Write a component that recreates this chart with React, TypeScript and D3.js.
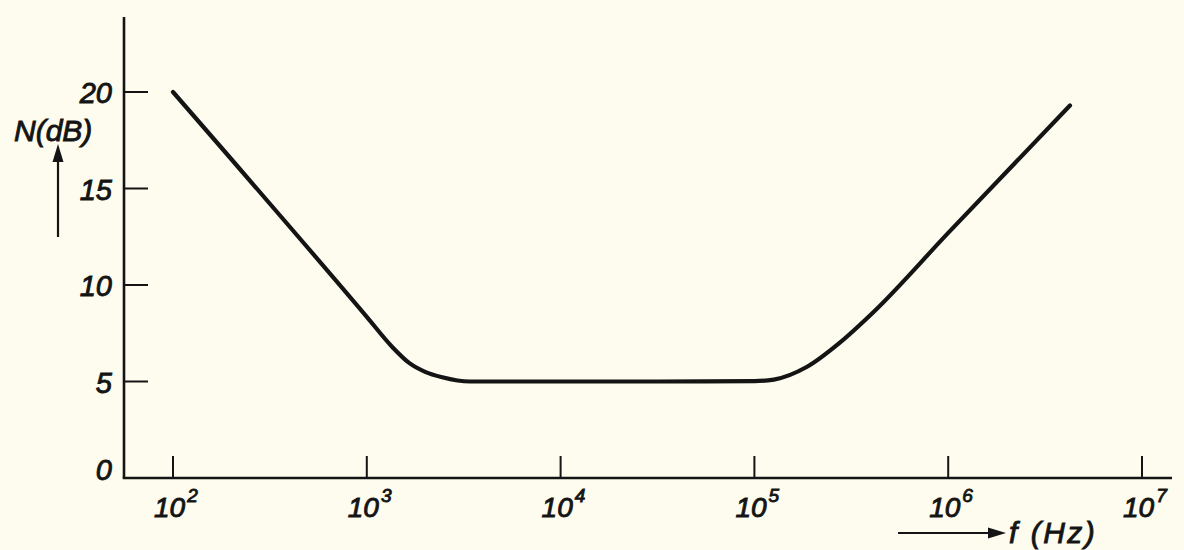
import React from "react";
import * as d3 from "d3";

const freqHz = [100, 1000, 1350, 1660, 2000, 2450, 3400, 5000, 10000, 31600, 100000, 126000, 186000, 275000, 407000, 1000000, 4250000];
const noiseDb = [20, 8.35, 6.8, 5.95, 5.5, 5.22, 5.0, 5.0, 5.0, 5.0, 5.02, 5.1, 5.75, 7.0, 8.55, 12.7, 19.3];
const yTicks = [0, 5, 10, 15, 20];
const xExponents = [2, 3, 4, 5, 6, 7];

const W = 1184;
const H = 550;
const INK = "#141414";
const FONT = "'Liberation Sans', Arial, sans-serif";

export default function App() {
  const x = d3.scaleLog().domain([100, 1e7]).range([173, 1142]);
  const y = d3.scaleLinear().domain([0, 20]).range([478, 92]);
  const x0 = 124;
  const y0 = y(0);

  const line = d3
    .line<number>()
    .x((_, i) => x(freqHz[i]))
    .y((d) => y(d))
    .curve(d3.curveMonotoneX);

  const textProps = {
    fontFamily: FONT,
    fontStyle: "italic" as const,
    fill: INK,
    stroke: INK,
    strokeWidth: 0.9,
  };

  return (
    <svg
      width={W}
      height={H}
      style={{ position: "absolute", left: 0, top: 0, background: "#fdfcee" }}
    >
      <rect x={0} y={0} width={W} height={H} fill="#fdfcee" />
      {/* axes */}
      <line x1={x0} y1={17} x2={x0} y2={y0} stroke={INK} strokeWidth={2.6} />
      <line x1={x0 - 1.3} y1={y0} x2={1172} y2={y0} stroke={INK} strokeWidth={2.6} />

      {/* y ticks */}
      {yTicks.map((t) => (
        <g key={"y" + t}>
          {t > 0 && (
            <line x1={x0} y1={y(t)} x2={x0 + 24} y2={y(t)} stroke={INK} strokeWidth={2} />
          )}
          <text
            x={112}
            y={y(t) + (t === 0 ? 2 : 11)}
            textAnchor="end"
            fontSize={29}
            {...textProps}
          >
            {t}
          </text>
        </g>
      ))}

      {/* x ticks */}
      {xExponents.map((e) => {
        const px = x(Math.pow(10, e));
        return (
          <g key={"x" + e}>
            <line x1={px} y1={y0} x2={px} y2={y0 - 22} stroke={INK} strokeWidth={2} />
            <text x={px - 19} y={y0 + 39} fontSize={28} {...textProps}>
              10
              <tspan dx={2} dy={-15} fontSize={19}>
                {e}
              </tspan>
            </text>
          </g>
        );
      })}

      {/* curve */}
      <path
        d={line(noiseDb) || ""}
        fill="none"
        stroke={INK}
        strokeWidth={4.2}
        strokeLinecap="round"
        strokeLinejoin="round"
      />

      {/* y label */}
      <text x={14} y={141} fontSize={30} {...textProps}>
        N(dB)
      </text>
      <line x1={58} y1={237} x2={58} y2={158} stroke={INK} strokeWidth={2.2} />
      <path d="M58,144 L52.5,162 L63.5,162 Z" fill={INK} />

      {/* x label */}
      <line x1={898} y1={533} x2={992} y2={533} stroke={INK} strokeWidth={2.2} />
      <path d="M1006,533 L988,527.5 L988,538.5 Z" fill={INK} />
      <text x={1009} y={543} fontSize={30} letterSpacing={2.5} {...textProps}>
        f (Hz)
      </text>
    </svg>
  );
}
